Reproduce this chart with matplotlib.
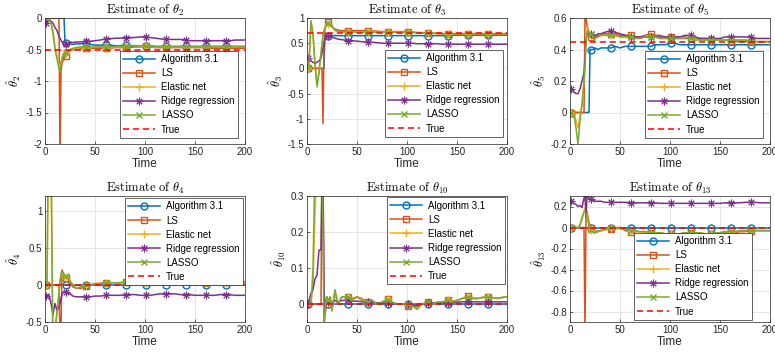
import matplotlib
matplotlib.use("Agg")
import matplotlib.pyplot as plt

plt.rcParams['font.family'] = ['Liberation Sans', 'DejaVu Sans']
plt.rcParams['mathtext.fontset'] = 'cm'

# time grid (segments A..G)
T = [1, 2, 4, 6, 8, 10, 12, 14,
     15, 16, 17, 18, 19, 20, 21,
     23, 25, 28, 31, 35,
     41, 45, 50, 55, 61, 65, 70, 75,
     81, 85, 90, 95, 101, 105, 110, 115,
     121, 125, 130, 135, 141, 145, 150, 155,
     161, 165, 170, 175, 181, 185, 190, 195, 200]
MARK_T = [1, 21, 41, 61, 81, 101, 121, 141, 161, 181]

SERIES = ["Algorithm 3.1", "LS", "Elastic net", "Ridge regression", "LASSO"]

# ---- theta_2 ----
th2_alg = [0]*8 + [0, 0, 0, 0, 0, -0.38, -0.39] + [-0.42, -0.41, -0.42, -0.41, -0.41] + \
    [-0.40, -0.42, -0.43, -0.43, -0.43, -0.43, -0.44, -0.44] + \
    [-0.43, -0.44, -0.44, -0.44, -0.44, -0.44, -0.45, -0.45] + \
    [-0.44, -0.45, -0.45, -0.45, -0.44, -0.45, -0.45, -0.45] + [-0.45]*9
th2_ls = [0]*8 + [-2.4, -0.85, -0.72, -0.68, -0.65, -0.62, -0.60] + [-0.55, -0.52, -0.50, -0.50, -0.49] + \
    [-0.47, -0.48, -0.48, -0.48, -0.48, -0.48, -0.47, -0.47] + \
    [-0.47, -0.47, -0.46, -0.46, -0.45, -0.46, -0.47, -0.47] + \
    [-0.47, -0.47, -0.47, -0.47, -0.47, -0.47, -0.47, -0.47] + [-0.47, -0.48, -0.48, -0.48, -0.48, -0.48, -0.48, -0.48, -0.48]
th2_en = [0, 0, -0.02, -0.05, -0.2, -0.45, -0.6, -0.75] + [-0.8, -0.7, -0.62, -0.58, -0.56, -0.55, -0.55] + \
    [-0.53, -0.5, -0.49, -0.48, -0.47] + \
    [-0.47, -0.47, -0.46, -0.46, -0.47, -0.46, -0.46, -0.46] + \
    [-0.45, -0.45, -0.45, -0.45, -0.44, -0.45, -0.46, -0.46] + [-0.46]*8 + [-0.46]*9
th2_ri = [-0.08, -0.05, -0.04, -0.05, -0.08, -0.15, -0.2, -0.3] + [-0.32, -0.35, -0.38, -0.4, -0.42, -0.43, -0.42] + \
    [-0.4, -0.38, -0.39, -0.38, -0.38] + \
    [-0.37, -0.37, -0.36, -0.35, -0.33, -0.33, -0.32, -0.32] + \
    [-0.31, -0.31, -0.31, -0.3, -0.3, -0.31, -0.32, -0.33] + \
    [-0.34, -0.34, -0.34, -0.34, -0.35, -0.36, -0.36, -0.36] + [-0.36, -0.36, -0.36, -0.36, -0.36, -0.36, -0.35, -0.35, -0.35]
th2_la = [0, 0, -0.03, -0.08, -0.25, -0.5, -0.65, -0.8] + [-0.85, -0.75, -0.65, -0.6, -0.57, -0.56, -0.55] + \
    [-0.52, -0.5, -0.48, -0.47, -0.46] + \
    [-0.46, -0.46, -0.46, -0.46, -0.46, -0.46, -0.45, -0.45] + \
    [-0.45, -0.45, -0.45, -0.44, -0.44, -0.45, -0.45, -0.46] + [-0.46]*8 + [-0.46]*9

# ---- theta_3 ----
th3_alg = [0]*8 + [0, 0, 0, 0.72, 0.68, 0.66, 0.65] + [0.65]*5 + [0.65]*8 + [0.65]*8 + \
    [0.65, 0.65, 0.65, 0.65, 0.65, 0.66, 0.66, 0.66] + [0.66]*9
th3_ls = [0]*8 + [0, -1.1, 0.5, 0.8, 0.86, 0.9, 0.92] + [0.85, 0.82, 0.78, 0.76, 0.75] + \
    [0.75, 0.75, 0.75, 0.75, 0.75, 0.74, 0.74, 0.73] + \
    [0.73, 0.73, 0.73, 0.73, 0.73, 0.72, 0.71, 0.71] + \
    [0.7, 0.7, 0.69, 0.69, 0.68, 0.68, 0.68, 0.68] + [0.68]*9
th3_en = [0, 0.08, 0.9, 0.65, 0.05, -0.3, -0.05, 0.3] + [0.5, 0.65, 0.75, 0.8, 0.84, 0.86, 0.88] + \
    [0.86, 0.83, 0.75, 0.73, 0.72] + [0.72]*8 + \
    [0.72, 0.72, 0.72, 0.71, 0.71, 0.71, 0.7, 0.7] + \
    [0.7, 0.7, 0.69, 0.69, 0.69, 0.69, 0.69, 0.69] + [0.69]*9
th3_ri = [0.2, 0.2, 0.15, 0.12, 0.1, 0.12, 0.15, 0.2] + [0.3, 0.4, 0.5, 0.58, 0.62, 0.65, 0.65] + \
    [0.63, 0.62, 0.6, 0.58, 0.57] + \
    [0.55, 0.55, 0.54, 0.53, 0.52, 0.52, 0.51, 0.5] + \
    [0.5, 0.5, 0.5, 0.5, 0.5, 0.5, 0.49, 0.49] + \
    [0.49, 0.49, 0.49, 0.48, 0.48, 0.48, 0.48, 0.48] + [0.48]*9
th3_la = [0, 0.1, 0.95, 0.7, 0.1, -0.37, -0.1, 0.3] + [0.5, 0.65, 0.75, 0.8, 0.85, 0.88, 0.9] + \
    [0.88, 0.85, 0.76, 0.74, 0.73] + \
    [0.73, 0.73, 0.72, 0.72, 0.72, 0.72, 0.72, 0.72] + \
    [0.72, 0.72, 0.72, 0.72, 0.72, 0.72, 0.71, 0.71] + \
    [0.7, 0.7, 0.7, 0.69, 0.69, 0.69, 0.69, 0.69] + [0.69]*9

# ---- theta_5 ----
th5_alg = [0]*8 + [0, 0, 0, 0, 0, 0.4, 0.4] + [0.4, 0.41, 0.4, 0.41, 0.41] + \
    [0.41, 0.42, 0.41, 0.42, 0.42, 0.42, 0.42, 0.42] + \
    [0.42, 0.43, 0.43, 0.43, 0.44, 0.44, 0.43, 0.43] + [0.43]*8 + [0.43]*9
th5_ls = [0]*8 + [0.62, 0.6, 0.55, 0.5, 0.49, 0.48, 0.48] + [0.47, 0.47, 0.49, 0.49, 0.5] + \
    [0.5, 0.5, 0.49, 0.49, 0.49, 0.48, 0.48, 0.49] + \
    [0.5, 0.49, 0.49, 0.48, 0.48, 0.48, 0.48, 0.48] + \
    [0.47, 0.47, 0.47, 0.47, 0.46, 0.46, 0.46, 0.46] + [0.45]*9
th5_en = [0, 0, 0, -0.05, -0.1, -0.02, 0.05, 0.2] + [0.3, 0.45, 0.52, 0.54, 0.51, 0.5, 0.49] + \
    [0.48, 0.48, 0.48, 0.49, 0.49] + \
    [0.49, 0.49, 0.48, 0.48, 0.48, 0.48, 0.47, 0.48] + \
    [0.48, 0.48, 0.47, 0.47, 0.47, 0.47, 0.47, 0.47] + \
    [0.47, 0.47, 0.46, 0.46, 0.46, 0.46, 0.46, 0.46] + [0.46, 0.46, 0.46, 0.46, 0.46, 0.45, 0.45, 0.45, 0.45]
th5_ri = [0.15, 0.15, 0.13, 0.12, 0.12, 0.15, 0.2, 0.25] + [0.35, 0.45, 0.5, 0.5, 0.5, 0.5, 0.5] + \
    [0.49, 0.48, 0.5, 0.5, 0.51] + \
    [0.52, 0.51, 0.5, 0.49, 0.48, 0.48, 0.48, 0.48] + \
    [0.48, 0.48, 0.48, 0.48, 0.48, 0.48, 0.48, 0.49] + \
    [0.49, 0.48, 0.47, 0.47, 0.47, 0.47, 0.47, 0.48] + [0.48, 0.48, 0.48, 0.48, 0.48, 0.47, 0.47, 0.47, 0.47]
th5_la = [0, 0, -0.02, -0.1, -0.2, -0.05, 0.05, 0.2] + [0.3, 0.45, 0.5, 0.52, 0.5, 0.5, 0.5] + \
    [0.48, 0.47, 0.48, 0.49, 0.49] + \
    [0.49, 0.49, 0.48, 0.48, 0.48, 0.47, 0.47, 0.48] + \
    [0.48, 0.48, 0.47, 0.47, 0.47, 0.47, 0.47, 0.47] + \
    [0.47, 0.46, 0.46, 0.46, 0.46, 0.46, 0.46, 0.46] + [0.46, 0.46, 0.46, 0.46, 0.45, 0.45, 0.45, 0.45, 0.45]

# ---- theta_4 ----
th4_alg = [0]*53
th4_ls = [0]*8 + [-0.7, -0.6, 0.2, 0.17, 0.14, 0.12, 0.1] + [0.08, 0.05, -0.03, -0.04, -0.05] + \
    [-0.02, 0, 0.01, 0.02, 0.03, 0.03, 0.03, 0.03] + \
    [0.04, 0.04, 0.04, 0.03, 0.04, 0.04, 0.05, 0.05] + \
    [0.05, 0.05, 0.05, 0.05, 0.05, 0.04, 0.04, 0.03] + [0.03, 0.03, 0.03, 0.03, 0.04, 0.04, 0.04, 0.04, 0.04]
th4_en = [0, 0, 2.5, 1.5, -0.9, -0.55, -0.35, -0.1] + [0.05, 0.14, 0.17, 0.15, 0.12, 0.11, 0.1] + \
    [0.09, 0.05, 0.0, -0.04, -0.03] + \
    [0, 0, 0.02, 0.02, 0.03, 0.03, 0.03, 0.03] + \
    [0.04, 0.04, 0.03, 0.03, 0.03, 0.03, 0.04, 0.05] + \
    [0.05, 0.05, 0.05, 0.05, 0.05, 0.04, 0.04, 0.03] + [0.03]*9
th4_ri = [-0.15, -0.14, -0.13, -0.25, -0.4, -0.25, -0.35, -0.3] + [-0.25, -0.18, -0.13, -0.1, -0.09, -0.1, -0.1] + \
    [-0.11, -0.12, -0.15, -0.16, -0.16] + \
    [-0.16, -0.16, -0.15, -0.15, -0.14, -0.14, -0.14, -0.14] + \
    [-0.13, -0.13, -0.13, -0.14, -0.14, -0.14, -0.13, -0.12] + \
    [-0.12, -0.12, -0.12, -0.13, -0.13, -0.13, -0.14, -0.14] + [-0.14, -0.14, -0.14, -0.13, -0.13, -0.13, -0.14, -0.14, -0.14]
th4_la = [0, 0, 3.0, 2.0, -1.0, -0.6, -0.4, -0.1] + [0.05, 0.15, 0.18, 0.15, 0.13, 0.12, 0.12] + \
    [0.1, 0.05, 0.0, -0.05, -0.03] + \
    [0, 0, 0.02, 0.02, 0.03, 0.03, 0.03, 0.03] + \
    [0.04, 0.04, 0.03, 0.03, 0.03, 0.03, 0.04, 0.05] + \
    [0.05, 0.05, 0.05, 0.05, 0.05, 0.04, 0.04, 0.03] + [0.03]*9

# ---- theta_10 ----
th10_alg = [0]*53
th10_ls = [0]*8 + [0.4, 0.4, -0.06, -0.02, 0.01, 0.02, 0.0] + [0.01, -0.01, 0.03, 0.0, 0.02] + \
    [0.02, 0.015, 0.02, 0.015, 0.005, 0.01, 0.0, 0.005] + \
    [0.015, 0.005, 0.0, 0.0, -0.005, -0.005, -0.01, 0.0] + \
    [0.005, 0.0, 0.005, 0.005, 0.01, 0.008, 0.01, 0.015] + \
    [0.022, 0.018, 0.015, 0.018, 0.02, 0.018, 0.016, 0.018, 0.02]
th10_en = [0, 0, 0, 0.05, 0.25, 0.4, 0.4, 0.4] + [0.4, 0.3, -0.05, -0.02, 0.01, 0.02, 0.005] + \
    [0.02, -0.015, 0.035, 0.0, 0.02] + \
    [0.02, 0.012, 0.02, 0.012, 0.006, 0.01, 0.0, 0.005] + \
    [0.013, 0.005, 0.0, 0.0, -0.002, -0.005, -0.012, 0.0] + \
    [0.005, 0.0, 0.005, 0.005, 0.01, 0.006, 0.01, 0.015] + \
    [0.02, 0.016, 0.015, 0.018, 0.02, 0.018, 0.015, 0.018, 0.02]
th10_ri = [0, 0.01, 0.03, 0.04, 0.07, 0.08, 0.15, 0.15] + [0.35, 0.35, 0.05, -0.03, -0.01, 0.01, 0.005] + \
    [0.005, 0.0, 0.01, 0.005, 0.01] + \
    [0.01, 0.008, 0.008, 0.006, 0.005, 0.005, 0.003, 0.003] + \
    [0.003, 0.002, 0.0, 0.0, 0.0, -0.003, -0.005, 0.0] + \
    [0.002, 0.003, 0.003, 0.004, 0.004, 0.005, 0.005, 0.006] + [0.007, 0.006, 0.006, 0.006, 0.006, 0.006, 0.006, 0.006, 0.006]
th10_la = [0, 0, 0.0, 0.1, 0.4, 0.4, 0.4, 0.4] + [0.4, 0.2, -0.06, -0.03, 0.0, 0.02, 0.01] + \
    [0.02, -0.02, 0.04, 0.0, 0.02] + \
    [0.02, 0.01, 0.02, 0.01, 0.005, 0.01, 0.0, 0.005] + \
    [0.012, 0.005, 0.0, 0.0, 0.0, -0.005, -0.015, 0.0] + \
    [0.005, 0.0, 0.005, 0.005, 0.01, 0.005, 0.01, 0.015] + \
    [0.02, 0.015, 0.015, 0.018, 0.02, 0.018, 0.015, 0.018, 0.02]

# ---- theta_13 ----
th13_alg = [0]*53
th13_ls = [0]*8 + [-1.0, 0.1, 0.15, 0.1, 0.05, 0.02, 0.0] + [-0.02, -0.04, -0.03, -0.03, -0.02] + \
    [-0.01, 0.0, 0.0, -0.03, -0.04, -0.04, -0.04, -0.04] + \
    [-0.05, -0.05, -0.05, -0.06, -0.06, -0.06, -0.06, -0.05] + \
    [-0.05, -0.06, -0.06, -0.06, -0.06, -0.05, -0.05, -0.05] + \
    [-0.05, -0.05, -0.04, -0.04, -0.03, -0.03, -0.03, -0.03, -0.03]
th13_en = [0, 0, 0, 0, 0, 0.03, 0.1, 0.16] + [0.18, 0.16, 0.12, 0.08, 0.03, 0.0, -0.02] + \
    [-0.04, -0.05, -0.04, -0.03, -0.02] + \
    [0.0, -0.01, -0.01, -0.02, -0.03, -0.03, -0.04, -0.04] + \
    [-0.05, -0.05, -0.05, -0.06, -0.06, -0.06, -0.06, -0.05] + \
    [-0.05, -0.05, -0.05, -0.06, -0.06, -0.05, -0.05, -0.04] + \
    [-0.04, -0.04, -0.03, -0.03, -0.02, -0.03, -0.03, -0.03, -0.03]
th13_ri = [0.25, 0.24, 0.23, 0.22, 0.2, 0.21, 0.19, 0.28] + [0.3, 0.1, 0.3, 0.29, 0.28, 0.27, 0.27] + \
    [0.26, 0.25, 0.25, 0.25, 0.24] + \
    [0.24, 0.24, 0.24, 0.24, 0.235, 0.235, 0.235, 0.235] + \
    [0.235, 0.235, 0.23, 0.23, 0.23, 0.23, 0.23, 0.23] + \
    [0.23, 0.23, 0.23, 0.23, 0.23, 0.23, 0.23, 0.235] + \
    [0.235, 0.235, 0.235, 0.24, 0.24, 0.24, 0.235, 0.235, 0.235]
th13_la = [0, 0, 0, 0, 0, 0.02, 0.08, 0.14] + [0.15, 0.13, 0.1, 0.06, 0.02, 0.0, -0.02] + \
    [-0.04, -0.05, -0.04, -0.03, -0.02] + \
    [0.0, -0.01, -0.01, -0.02, -0.03, -0.03, -0.04, -0.04] + \
    [-0.05, -0.05, -0.05, -0.06, -0.06, -0.06, -0.06, -0.05] + \
    [-0.05, -0.05, -0.05, -0.06, -0.06, -0.05, -0.05, -0.04] + \
    [-0.04, -0.04, -0.03, -0.03, -0.02, -0.03, -0.03, -0.03, -0.03]

PANELS = [
    dict(idx="2", true=-0.5, ylim=(-2, 0), yticks=[-2, -1.5, -1, -0.5, 0],
         ylabels=["-2", "-1.5", "-1", "-0.5", "0"],
         data=[th2_alg, th2_ls, th2_en, th2_ri, th2_la]),
    dict(idx="3", true=0.7, ylim=(-1.5, 1), yticks=[-1.5, -1, -0.5, 0, 0.5, 1],
         ylabels=["-1.5", "-1", "-0.5", "0", "0.5", "1"],
         data=[th3_alg, th3_ls, th3_en, th3_ri, th3_la]),
    dict(idx="5", true=0.45, ylim=(-0.2, 0.6), yticks=[-0.2, 0, 0.2, 0.4, 0.6],
         ylabels=["-0.2", "0", "0.2", "0.4", "0.6"],
         data=[th5_alg, th5_ls, th5_en, th5_ri, th5_la]),
    dict(idx="4", true=0.0, ylim=(-0.5, 1.2), yticks=[-0.5, 0, 0.5, 1],
         ylabels=["-0.5", "0", "0.5", "1"],
         data=[th4_alg, th4_ls, th4_en, th4_ri, th4_la]),
    dict(idx="10", true=0.0, ylim=(-0.05, 0.3), yticks=[0, 0.1, 0.2, 0.3],
         ylabels=["0", "0.1", "0.2", "0.3"],
         data=[th10_alg, th10_ls, th10_en, th10_ri, th10_la]),
    dict(idx="13", true=0.0, ylim=(-0.9, 0.3), yticks=[-0.8, -0.6, -0.4, -0.2, 0, 0.2],
         ylabels=["-0.8", "-0.6", "-0.4", "-0.2", "0", "0.2"],
         data=[th13_alg, th13_ls, th13_en, th13_ri, th13_la]),
]
XTICKS = [0, 50, 100, 150, 200]

COLORS = ["#0072BD", "#D95319", "#EDB120", "#7E2F8E", "#77AC30"]
MARKERS = ["o", "s", "+", (8, 2, 0), "x"]
MSIZES = [5, 5, 6, 5.5, 5]
MEWS = [1.0, 1.0, 1.0, 0.7, 1.0]
# pixel boxes (left, top) for each axes; width 200, height 126
BOX = [(45, 18), (307, 18), (570, 18), (45, 196), (307, 196), (570, 196)]
LEG = [("lower right", (0.965, 0.048)), ("lower right", (0.98, 0.056)),
       ("lower right", (0.965, 0.048)), ("upper right", (0.99, 0.984)),
       ("upper right", (0.99, 0.99)), ("lower right", (0.91, 0.016))]

W, H = 775, 358
fig = plt.figure(figsize=(W/100, H/100), dpi=100)
mk_idx = [i for i, t in enumerate(T) if t in MARK_T]

for p, (l, t), (loc, anc) in zip(PANELS, BOX, LEG):
    ax = fig.add_axes([l/W, 1 - (t + 126)/H, 200/W, 126/H])
    for name, vals, c, m, ms, mw in zip(SERIES, p["data"], COLORS, MARKERS, MSIZES, MEWS):
        ax.plot(T, vals, color=c, lw=1.1, marker=m, markevery=mk_idx,
                markersize=ms, mfc="none", mec=c, mew=mw, label=name)
    ax.plot([0, 200], [p["true"], p["true"]], color="#FF0000", ls=(0, (4, 2.5)), lw=1.1, label="True")
    ax.set_xlim(0, 200)
    ax.set_ylim(*p["ylim"])
    ax.set_xticks(XTICKS)
    ax.set_xticklabels([str(x) for x in XTICKS])
    ax.set_yticks(p["yticks"])
    ax.set_yticklabels(p["ylabels"])
    ax.tick_params(direction="in", length=2.5, width=0.5, labelsize=7, colors="#262626", pad=2)
    ax.grid(True, color="#dcdcdc", lw=0.5)
    ax.set_axisbelow(True)
    for s in ax.spines.values():
        s.set_linewidth(0.5)
        s.set_color("#262626")
    ax.set_title(r"$\mathrm{Estimate\ of}\ \theta_{%s}$" % p["idx"], fontsize=9, pad=3)
    ax.set_xlabel("Time", fontsize=8.5, labelpad=1, color="#262626")
    ax.set_ylabel(r"$\hat{\theta}_{%s}$" % p["idx"], fontsize=9, labelpad=2)
    leg = ax.legend(loc=loc, bbox_to_anchor=anc, fontsize=7, frameon=True, fancybox=False,
                    edgecolor="#262626", framealpha=1, handlelength=3.3, handletextpad=0.6,
                    borderpad=0.35, labelspacing=0.42, borderaxespad=0)
    leg.get_frame().set_linewidth(0.5)

fig.savefig("out.png", dpi=100)
